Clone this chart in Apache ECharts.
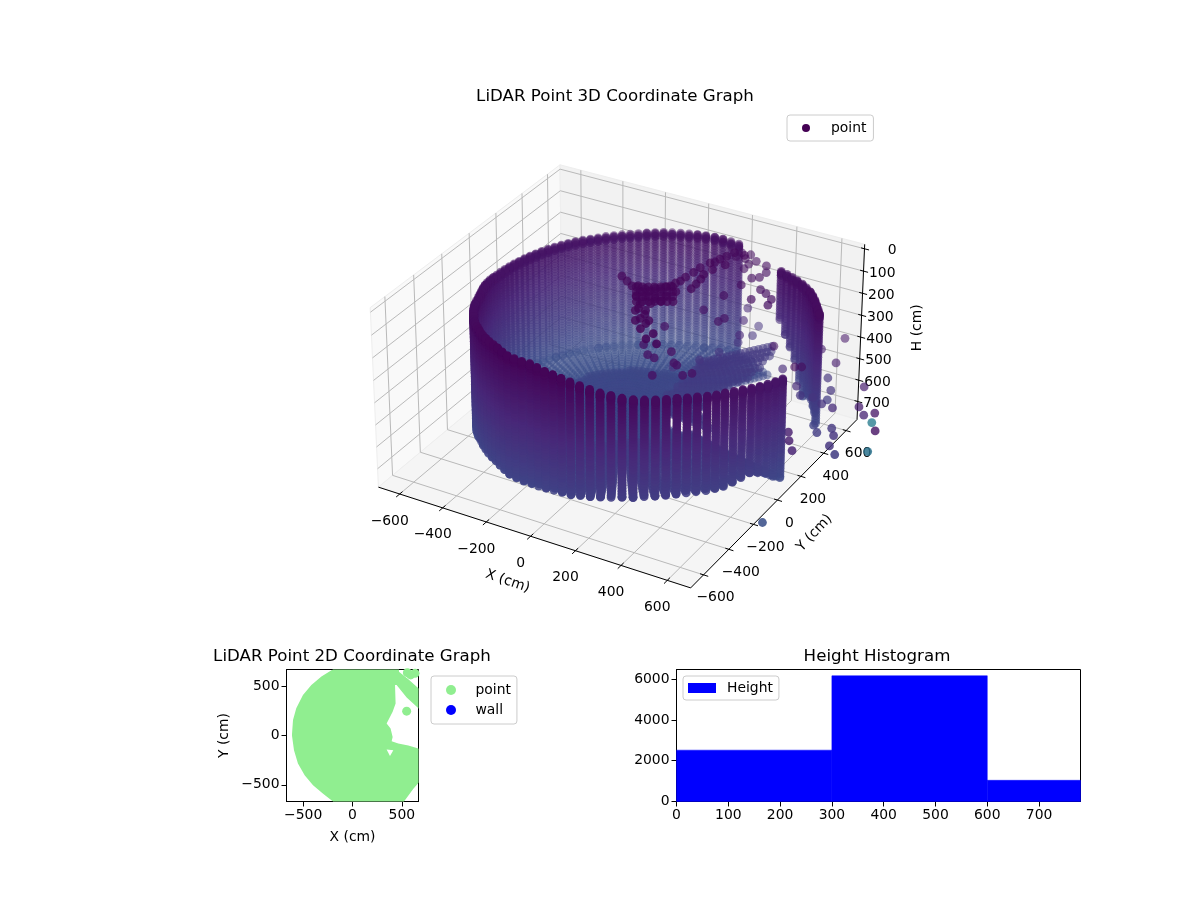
<!DOCTYPE html>
<html>
<head>
<meta charset="utf-8">
<script src="https://cdn.jsdelivr.net/npm/echarts@6/dist/echarts.min.js"></script>
<style>html,body{margin:0;background:#fff}#chart{width:1200px;height:900px}</style>
</head>
<body>
<div id="chart"></div>
<script>
// wall columns of the scan, read per azimuth (deg): radius (cm), top and bottom height (cm)
const wallAngle = [-180,-177,-174,-171,-168,-165,-162,-159,-156,-153,-150,-147,-144,-141,-138,-135,-132,-129,-126,-123,-120,-117,-114,-111,-108,-105,-102,-99,-96,-93,-90,-87,-84,-81,-78,-75,-72,-69,-66,-63,-60,-57,-54,-51,-48,-45,-42,-39,-36,-33,-30,-27,-24,-21,-18,-15,-12,-9,
  21,24,27,30,33,36,39,42,45,48,51,54,
  78,81,84,87,90,93,96,99,102,105,108,111,114,117,120,123,126,129,132,135,138,141,144,147,150,153,156,159,162,165,168,171,174,177];
const wallRadius = [575,573,572,570,567,565,563,563,564,568,572,575,578,580,585,590,595,600,605,612,621,628,636,643,650,660,670,680,683,685,685,695,705,715,728,740,750,760,770,778,785,790,790,788,785,782,778,775,775,770,765,765,765,768,770,772,775,778,
  770,762,755,750,745,740,732,725,715,707,700,692,
  705,700,695,690,680,675,670,665,660,655,650,645,640,637,635,630,625,620,617,614,611,608,604,600,597,594,591,588,585,583,581,579,577,576];
const wallTop = [135,131,127,123,119,115,113,111,110,108,107,103,100,97,93,90,82,75,68,61,55,51,47,43,39,35,34,33,32,31,30,31,33,34,35,37,42,48,54,59,65,69,72,76,80,83,90,96,102,109,115,121,127,133,140,146,151,156,
  83,86,88,90,92,95,98,101,104,108,112,115,
  121,120,119,118,117,119,121,122,124,125,128,130,133,135,137,138,138,139,140,140,140,141,141,141,141,141,141,140,140,140,139,138,137,136];
const wallBottom = [640,640,640,640,640,638,636,634,632,631,630,622,614,606,598,590,583,576,569,563,558,557,556,555,553,552,553,554,555,556,556,550,544,538,532,527,520,513,506,500,495,493,491,494,497,499,504,509,514,519,524,518,512,505,520,540,570,594,
  575,550,545,540,548,555,590,540,463,425,385,334,
  620,624,628,632,640,642,644,646,648,650,652,653,654,655,655,655,655,655,655,655,655,655,655,655,655,654,652,650,648,646,645,644,642,641];
// scan rows down the wall (cm), and the extra returns just under the rim
const scanRows = [24,36,48,60,72,84,96,108,120,132,144,156,168,180,192,204,216,228,240,252,264,276,288,300,312,324,336,348,360,372,384,396,408,420,432,444,456,468,480,492,504,516,528,540,552,564,576,588,600,612,624,636,648];
const rimRows = [6,12,18];
// floor rings (cm) and the floor height near the middle of the room
const floorRings = [20,40,60,80,100,120,140,160,180,200,220,240,260,280,300,320,340,360,380,400,420,440,460,480,500,520,540,560,580,600,620,640,660,680,700,720,740,760,780];
const floorMiddleH = 590;
// where the floor stops early, around the opening on the right
const openingAngle = [-6,-3,0,3,6,9,12,15,18,21,24,27,30,33,36,39,42,45,48,51,54,57,60,63,66,69,72,75];
const openingReach = [420,370,365,350,335,330,340,335,330,335,380,410,430,470,500,530,560,590,620,640,660,660,665,670,675,680,690,695];
const openingLevel = [520,520,520,520,520,510,510,510,510,500,500,490,480,470,470,460,460,450,450,450,450,600,605,610,610,610,615,615];
// fixture hanging near the sensor: X, Y (cm) at heights given per group
const fixtureX = [-43,-6,30,51,81,86,111,120,137,146,160,165,174,240,83,118,159,182,200,128,162,188,138,172,186,177,223,184,188,203,221,233,245,290,226,238,
  48,69,89,109,130,150,170,68,89,109,129,150,170,190,87,108,128,148,169,189,209,107,127,148,168,189,209,229,
  141,185,225,222,286,282,335,235,237,262,176,216];
const fixtureY = [74,50,26,37,1,31,27,51,61,85,100,130,154,120,-34,-23,-17,23,70,-81,-61,-27,-137,-118,-182,-205,-206,241,288,341,389,422,465,465,246,163,
  27,38,50,62,74,86,98,-7,4,16,28,40,52,64,-41,-30,-17,-5,6,18,30,-75,-64,-51,-39,-27,-16,-4,
  -118,-147,-250,-180,-260,-308,-321,206,298,357,191,358];
const fixtureH = 30;
const strayX = [260,354,363,193,192,244,277,311,361,378,336,458,435];
const strayY = [187,134,167,-4,-167,-227,-235,-162,-232,-240,-354,-266,-297];
const strayH = 150;
const rimX = [206,211,249,245,294,279,347,372,367,344,281,334,418,451,423,491,501,316];
const rimY = [555,594,598,559,560,525,546,497,449,427,481,358,361,344,274,313,265,248];
const rimH = 100;
const ledgeX = [165,229,266,295,319,304,312,279,354];
const ledgeY = [116,217,311,417,494,575,427,525,315];
const ledgeH = [400,400,400,400,400,400,300,300,300];
// loose returns outside the room, with their colour position on the colormap
const looseX = [650,608,707,580,604,433,546,654,699,748,732,785,805,800,850,885,935,978,1008,1029,1067,915,945,845,880,785,816,858,965,1010,1108,853];
const looseY = [660,535,466,356,370,461,319,228,173,183,345,265,195,157,150,355,208,162,197,128,79,14,-30,0,-42,-94,-148,-205,-105,-150,-69,-425];
const looseH = [400,400,400,400,400,400,400,400,400,400,400,400,400,400,400,400,400,400,400,400,400,400,400,400,400,400,400,400,400,400,400,600];
const looseShade = [0.06,0.08,0.08,0.03,0.03,0.05,0.12,0.12,0.15,0.15,0.15,0.15,0.18,0.15,0.12,0.08,0.08,0.1,0.06,0.42,0.05,0.16,0.15,0.2,0.18,0.08,0.08,0.1,0.15,0.18,0.38,0.25];
const viridis = ['#440154','#482878','#3e4989','#31688e','#26828e','#1f9e89','#35b779','#6ece58','#b5de2b','#fde725'];

const axisTicks3d = [-600,-400,-200,0,200,400,600];
const heightTicks = [0,100,200,300,400,500,600,700];

// 2D footprint outline (cm), the hole in it and the separate blobs
const outlineX = [-197,-197,471,471,566,668,719,719,668,549,447,431,437,407,346,386,407,397,464,566,668,753,753,668,617,522,522,-197,-197,-298,-400,-485,-553,-593,-614,-603,-570,-502,-417,-315];
const outlineY = [671,698,698,647,570,478,461,231,275,386,512,512,325,241,122,71,-14,-58,-81,-102,-132,-149,-420,-481,-539,-668,-708,-708,-668,-590,-505,-403,-285,-149,3,156,275,410,512,597];
const notchX = [346,414,380];
const notchY = [-142,-149,-207];
const blobX = [549,556,590,634];
const blobY = [247,637,614,630];

// height histogram
const binEdges = [0,300,600,900];
const binCounts = [2520,6170,1040];

const LIMIT = 700, H_MIN = -20, H_MAX = 785;
const HALF = 0.5714, HALF_H = 0.3265;      // box half sizes in view units

// matplotlib style view at elev 30, azim -60, dist 10
function project(X, Y, H) {
    const dx = X / LIMIT * HALF, dy = Y / LIMIT * HALF;
    const dz = HALF_H * (1 - 2 * (H - H_MIN) / (H_MAX - H_MIN));
    const depth = 0.433 * dx - 0.75 * dy + 0.5 * dz;
    const den = 10 - depth;
    return [(0.866 * dx + 0.5 * dy) / den, (-0.25 * dx + 0.433 * dy + 0.866 * dz) / den, depth];
}

// collect the scan
const cloud = [];
function addPoint(X, Y, H, shade) { cloud.push({ p: project(X, Y, H), shade: shade === undefined ? H / 2700 : shade }); }
function addPolar(angle, r, H) { addPoint(r * Math.cos(angle * Math.PI / 180), r * Math.sin(angle * Math.PI / 180), H); }

wallAngle.forEach((angle, i) => {
    addPolar(angle, wallRadius[i], wallTop[i]);
    addPolar(angle, wallRadius[i], wallBottom[i]);
    rimRows.forEach(step => addPolar(angle, wallRadius[i], wallTop[i] + step));
    scanRows.forEach(H => { if (H > wallTop[i] && H < wallBottom[i]) addPolar(angle, wallRadius[i], H); });
    if (openingAngle.includes(angle)) return;
    floorRings.forEach(r => {
        if (r <= wallRadius[i]) addPolar(angle, r, r > wallRadius[i] / 2 ? wallBottom[i] : floorMiddleH);
    });
});
openingAngle.forEach((angle, i) => {
    floorRings.forEach(r => {
        if (r <= openingReach[i]) addPolar(angle, r, r > openingReach[i] / 2 ? openingLevel[i] : floorMiddleH);
    });
});
fixtureX.forEach((x, i) => addPoint(x, fixtureY[i], fixtureH));
strayX.forEach((x, i) => addPoint(x, strayY[i], strayH));
rimX.forEach((x, i) => addPoint(x, rimY[i], rimH));
ledgeX.forEach((x, i) => addPoint(x, ledgeY[i], ledgeH[i]));
looseX.forEach((x, i) => addPoint(x, looseY[i], looseH[i], looseShade[i]));

// far points first and fainter, like depthshade
cloud.sort((a, b) => a.p[2] - b.p[2]);
const nearest = cloud[cloud.length - 1].p[2], farthest = cloud[0].p[2];
const cloudData = cloud.map(pt => ({
    value: [pt.p[0], pt.p[1]],
    itemStyle: {
        color: echarts.color.lerp(pt.shade, viridis),
        opacity: 0.38 + 0.6 * (pt.p[2] - farthest) / (nearest - farthest)
    }
}));

// box of the 3D axes
const L = LIMIT;
const panes = [
    { color: '#f9f9f9', corners: [[-L,-L,H_MAX],[-L,L,H_MAX],[-L,L,H_MIN],[-L,-L,H_MIN]] },
    { color: '#f2f2f2', corners: [[-L,L,H_MAX],[L,L,H_MAX],[L,L,H_MIN],[-L,L,H_MIN]] },
    { color: '#f5f5f5', corners: [[-L,-L,H_MAX],[L,-L,H_MAX],[L,L,H_MAX],[-L,L,H_MAX]] }
];
const gridSegs = [];
const blackSegs = [];
function seg(list, a, b) { list.push([...project(...a).slice(0, 2), ...project(...b).slice(0, 2)]); }
axisTicks3d.forEach(t => {
    seg(gridSegs, [t,-L,H_MAX], [t,L,H_MAX]);
    seg(gridSegs, [t,L,H_MAX], [t,L,H_MIN]);
    seg(gridSegs, [L,t,H_MAX], [-L,t,H_MAX]);
    seg(gridSegs, [-L,t,H_MAX], [-L,t,H_MIN]);
    seg(blackSegs, [t,-L-25,H_MAX], [t,-L+20,H_MAX]);
    seg(blackSegs, [L-15,t,H_MAX], [L+20,t,H_MAX]);
});
heightTicks.forEach(h => {
    seg(gridSegs, [-L,-L,h], [-L,L,h]);
    seg(gridSegs, [-L,L,h], [L,L,h]);
    seg(blackSegs, [L-15,L,h], [L+20,L,h]);
});
seg(blackSegs, [-L,-L,H_MAX], [L,-L,H_MAX]);
seg(blackSegs, [L,-L,H_MAX], [L,L,H_MAX]);
seg(blackSegs, [L,L,H_MAX], [L,L,H_MIN]);

const FONT = '"DejaVu Sans", sans-serif';
const minus = v => String(v).replace('-', '\u2212');
// tick labels and axis titles anchored on the projected box
const labels3d = [];
axisTicks3d.forEach(t => {
    labels3d.push({ at: project(t, -L, H_MAX), text: minus(t), dx: -10, dy: 27 });
    labels3d.push({ at: project(L, t, H_MAX), text: minus(t), dx: 12, dy: 23 });
});
heightTicks.forEach(h => labels3d.push({ at: project(L, L, h), text: String(h), dx: 32, dy: 2, align: 'right' }));
labels3d.push({ at: project(0, -L, H_MAX), text: 'X (cm)', dx: -23, dy: 45, rotation: -0.33 });
labels3d.push({ at: project(L, 0, H_MAX), text: 'Y (cm)', dx: 37, dy: 33, rotation: 0.82 });
labels3d.push({ at: project(L, L, 380), text: 'H (cm)', dx: 57, dy: -5, rotation: Math.PI / 2 });

const segSeries = (list, color, width, z) => ({
    type: 'custom', xAxisIndex: 0, yAxisIndex: 0, silent: true, z,
    renderItem: (params, api) => {
        const a = api.coord([api.value(0), api.value(1)]);
        const b = api.coord([api.value(2), api.value(3)]);
        return { type: 'line', shape: { x1: a[0], y1: a[1], x2: b[0], y2: b[1] }, style: { stroke: color, lineWidth: width } };
    },
    data: list
});

const chart = echarts.init(document.getElementById('chart'));
const legendBox = { orient: 'vertical', selectedMode: false, backgroundColor: 'rgba(255,255,255,0.8)', borderColor: '#cccccc', borderWidth: 1, borderRadius: 3 };
const legendText = left => ({ fontFamily: FONT, fontSize: 13.9, color: '#000', padding: [0, 0, 0, left] });
const tickFont = { fontFamily: FONT, fontSize: 13.9, color: '#000' };
const titleOf = (text, x, y) => ({ text, left: x, top: y, textAlign: 'center', textStyle: { fontFamily: FONT, fontSize: 16.67, fontWeight: 'normal', color: '#000' } });
const sideAxis = { splitLine: { show: false }, axisLine: { onZero: false, lineStyle: { color: '#000' } } };

const option = {
    animation: false,
    backgroundColor: '#fff',
    title: [
        titleOf('LiDAR Point 3D Coordinate Graph', 610, 83),
        titleOf('LiDAR Point 2D Coordinate Graph', 347, 643),
        titleOf('Height Histogram', 872, 643)
    ],
    legend: [
        { ...legendBox, left: 787, top: 115, padding: [6, 7, 6, 15], itemWidth: 24, itemHeight: 8, textStyle: legendText(8), data: [{ name: 'point', icon: 'circle', itemStyle: { color: '#440154', opacity: 1 } }] },
        { ...legendBox, left: 431, top: 676, padding: [7, 6, 7, 15], itemWidth: 25, itemHeight: 10, itemGap: 6, textStyle: legendText(7), data: [{ name: 'point', icon: 'circle', itemStyle: { color: '#90EE90', opacity: 1 } }, { name: 'wall', icon: 'circle', itemStyle: { color: '#0000ff', opacity: 1 } }] },
        { ...legendBox, left: 683, top: 676, padding: [5, 6, 5, 5], itemWidth: 28, itemHeight: 10, textStyle: legendText(6), data: [{ name: 'Height', icon: 'rect', itemStyle: { color: '#0000ff' } }] }
    ],
    grid: [
        { left: 300, top: 100, width: 600, height: 540 },
        { left: 286.5, top: 669.5, width: 132, height: 132, show: true, borderColor: '#000', borderWidth: 1, backgroundColor: 'transparent' },
        { left: 676.5, top: 669.5, width: 404, height: 132, show: true, borderColor: '#000', borderWidth: 1, backgroundColor: 'transparent' }
    ],
    xAxis: [
        { gridIndex: 0, type: 'value', show: false, min: (300 - 622) / 3115, max: (900 - 622) / 3115 },
        {
            ...sideAxis, gridIndex: 1, type: 'value', min: -669, max: 669, name: 'X (cm)', nameLocation: 'middle', nameGap: 29, nameTextStyle: tickFont,
            axisTick: { length: 5, customValues: [-500, 0, 500], lineStyle: { color: '#000' } },
            axisLabel: { ...tickFont, margin: 7, customValues: [-500, 0, 500], formatter: minus }
        },
        {
            ...sideAxis, gridIndex: 2, type: 'value', min: 0, max: 780, interval: 100,
            axisTick: { length: 5, lineStyle: { color: '#000' } }, axisLabel: { ...tickFont, margin: 7, showMaxLabel: false }
        }
    ],
    yAxis: [
        { gridIndex: 0, type: 'value', show: false, min: (365.5 - 640) / 3135, max: (365.5 - 100) / 3135 },
        {
            ...sideAxis, gridIndex: 1, type: 'value', min: -669, max: 669, name: 'Y (cm)', nameLocation: 'middle', nameGap: 55, nameRotate: 90, nameTextStyle: tickFont,
            axisTick: { length: 5, customValues: [-500, 0, 500], lineStyle: { color: '#000' } },
            axisLabel: { ...tickFont, margin: 7, customValues: [-500, 0, 500], formatter: minus }
        },
        {
            ...sideAxis, gridIndex: 2, type: 'value', min: 0, max: 6478, interval: 2000,
            axisTick: { length: 5, lineStyle: { color: '#000' } }, axisLabel: { ...tickFont, margin: 7, showMaxLabel: false, formatter: v => String(v) }
        }
    ],
    series: [
        {
            type: 'custom', xAxisIndex: 0, yAxisIndex: 0, silent: true, z: 1,
            renderItem: (params, api) => ({
                type: 'polygon',
                shape: { points: panes[params.dataIndex].corners.map(c => api.coord(project(...c).slice(0, 2))) },
                style: { fill: panes[params.dataIndex].color, stroke: '#eeeeee', lineWidth: 1 }
            }),
            data: panes.map((p, i) => [i])
        },
        segSeries(gridSegs, '#b9b9b9', 1, 2),
        segSeries(blackSegs, '#000', 1, 3),
        {
            type: 'custom', xAxisIndex: 0, yAxisIndex: 0, silent: true, z: 4,
            renderItem: (params, api) => {
                const item = labels3d[params.dataIndex];
                const c = api.coord([item.at[0], item.at[1]]);
                return {
                    type: 'text', x: c[0] + item.dx, y: c[1] + item.dy, rotation: item.rotation || 0,
                    style: { text: item.text, font: '13.9px ' + FONT, fill: '#000', align: item.align || 'center', verticalAlign: 'middle' }
                };
            },
            data: labels3d.map(item => [item.at[0], item.at[1]])
        },
        {
            name: 'point', type: 'scatter', xAxisIndex: 0, yAxisIndex: 0, silent: true, z: 5, clip: false,
            symbolSize: 8.8, progressive: 0, itemStyle: { color: '#440154' }, data: cloudData
        },
        // 2D footprint
        {
            type: 'custom', xAxisIndex: 1, yAxisIndex: 1, silent: true, z: 2,
            renderItem: (params, api) => {
                const rect = { x: params.coordSys.x, y: params.coordSys.y, width: params.coordSys.width, height: params.coordSys.height };
                const isOutline = params.dataIndex === 0;
                const xs = isOutline ? outlineX : notchX, ys = isOutline ? outlineY : notchY;
                return {
                    type: 'polygon',
                    shape: { points: xs.map((x, i) => api.coord([x, ys[i]])) },
                    clipPath: { type: 'rect', shape: rect },
                    style: { fill: isOutline ? '#90EE90' : '#fff' }
                };
            },
            data: [[0], [1]]
        },
        {
            name: 'point', type: 'scatter', xAxisIndex: 1, yAxisIndex: 1, silent: true, z: 3,
            symbolSize: 9, itemStyle: { color: '#90EE90', opacity: 1 },
            data: blobX.map((x, i) => [x, blobY[i]])
        },
        { name: 'wall', type: 'scatter', xAxisIndex: 1, yAxisIndex: 1, silent: true, itemStyle: { color: '#0000ff', opacity: 1 }, data: [] },
        // histogram
        {
            name: 'Height', type: 'custom', xAxisIndex: 2, yAxisIndex: 2, silent: true, z: 2, itemStyle: { color: '#0000ff' },
            renderItem: (params, api) => {
                const a = api.coord([api.value(0), api.value(2)]);
                const b = api.coord([api.value(1), 0]);
                const shape = echarts.graphic.clipRectByRect(
                    { x: a[0], y: a[1], width: b[0] - a[0], height: b[1] - a[1] },
                    { x: params.coordSys.x, y: params.coordSys.y, width: params.coordSys.width, height: params.coordSys.height }
                );
                return { type: 'rect', shape, style: { fill: '#0000ff', stroke: '#0000ff', lineWidth: 0.5 } };
            },
            data: binCounts.map((count, i) => [binEdges[i], binEdges[i + 1], count])
        }
    ]
};
chart.setOption(option);
</script>
</body>
</html>
